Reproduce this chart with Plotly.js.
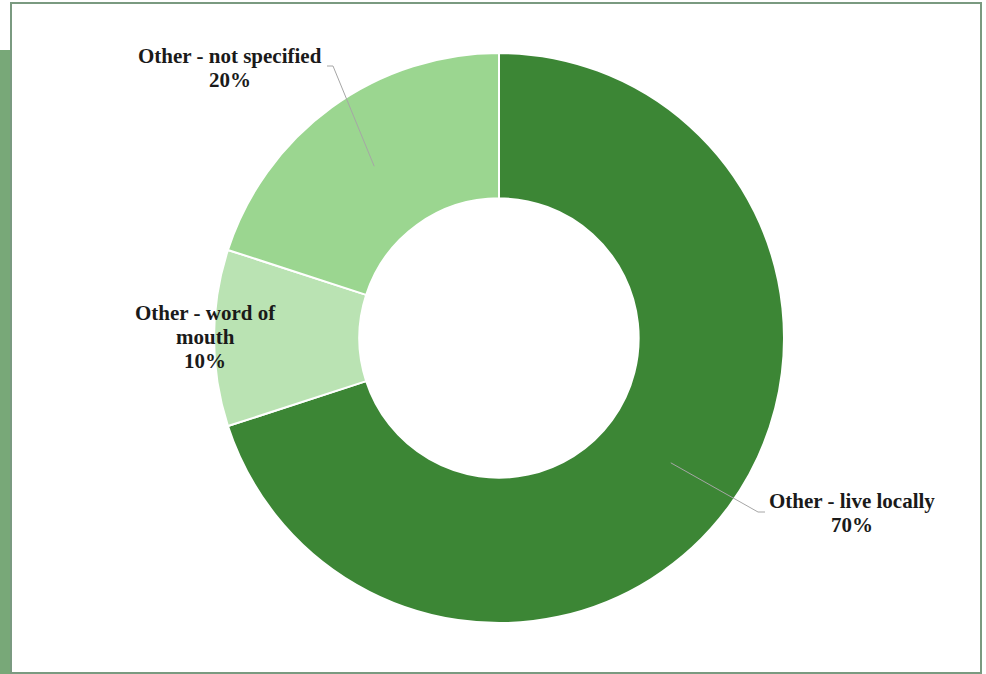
<!DOCTYPE html>
<html>
<head>
<meta charset="utf-8">
<script src="https://cdn.plot.ly/plotly-3.0.1.min.js"></script>
<style>
  html, body { margin: 0; padding: 0; background: #ffffff; }
  #chart { width: 986px; height: 674px; }
</style>
</head>
<body>
<div id="chart"></div>
<script>
// ---- data ----
const categories = ["Other - live locally", "Other - word of mouth", "Other - not specified"];
const values = [70, 10, 20];
const percentLabels = ["70%", "10%", "20%"];
const colors = ["#3c8635", "#bae3b3", "#9bd690"];

// ---- layout constants (pixels) ----
const W = 986, H = 674;
const CX = 499, CY = 338, R = 285, HOLE = 0.49;
const px = x => x / W;
const py = y => 1 - y / H;

// label lines (name split as in the reference) + percentage
const labelLines = [
  [categories[0], percentLabels[0]],
  ["Other - word of", "mouth", percentLabels[1]],
  [categories[2], percentLabels[2]]
];
// pixel position of label center-x and first line center-y
const labelPos = [[852, 501], [205, 313], [230, 56]];
const LINE_GAP = 24;
const leader = [
  {bend: [758, 512], end: [765, 512]},
  null,
  {bend: [333, 66], end: [327, 66]}
];

const total = values.reduce((a, b) => a + b, 0);
const shapes = [];
const annotations = [];

// frame
shapes.push({type: "rect", xref: "paper", yref: "paper", x0: px(0), x1: px(10), y0: py(674), y1: py(50),
  fillcolor: "#78a878", line: {width: 0}, layer: "below"});
shapes.push({type: "rect", xref: "paper", yref: "paper", x0: px(11), x1: px(981), y0: py(673), y1: py(3),
  fillcolor: "rgba(0,0,0,0)", line: {color: "#7a9a80", width: 2}, layer: "below"});

let cum = 0;
for (let i = 0; i < values.length; i++) {
  const mid = (cum + values[i] / 2) / total;
  cum += values[i];
  const th = mid * 2 * Math.PI;
  const rr = R * (1 + HOLE) / 2;
  const sx = CX + rr * Math.sin(th);
  const sy = CY - rr * Math.cos(th);
  if (leader[i]) {
    const b = leader[i].bend, e = leader[i].end;
    shapes.push({type: "path", xref: "paper", yref: "paper",
      path: `M ${px(sx)} ${py(sy)} L ${px(b[0])} ${py(b[1])} L ${px(e[0])} ${py(e[1])}`,
      line: {color: "#a6a6a6", width: 1}});
  }
  labelLines[i].forEach((t, k) => {
    annotations.push({xref: "paper", yref: "paper",
      x: px(labelPos[i][0]), y: py(labelPos[i][1] + k * LINE_GAP),
      text: "<b>" + t + "</b>", showarrow: false, xanchor: "center", yanchor: "middle",
      align: "center", font: {family: "Liberation Serif, Times New Roman, serif", size: 21, color: "#1a1a1a"}});
  });
}

const trace = {
  type: "pie",
  labels: categories,
  values: values,
  hole: HOLE,
  sort: false,
  direction: "clockwise",
  rotation: 0,
  textinfo: "none",
  hoverinfo: "label+percent",
  marker: {colors: colors, line: {color: "#ffffff", width: 2}},
  domain: {x: [px(CX - R), px(CX + R)], y: [py(CY + R), py(CY - R)]}
};

const layout = {
  width: W, height: H,
  margin: {l: 0, r: 0, t: 0, b: 0},
  paper_bgcolor: "#ffffff",
  showlegend: false,
  shapes: shapes,
  annotations: annotations
};

Plotly.newPlot("chart", [trace], layout, {displayModeBar: false, staticPlot: true});
</script>
</body>
</html>
